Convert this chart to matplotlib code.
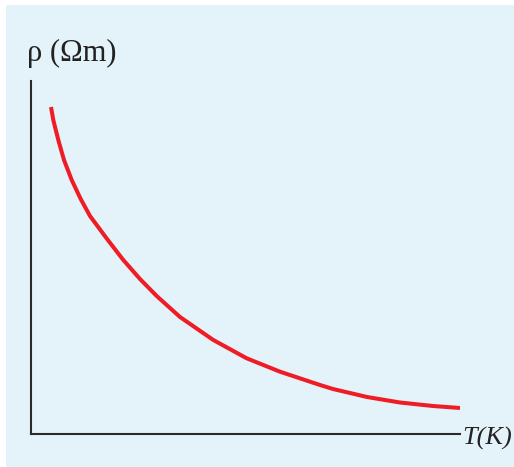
import matplotlib.pyplot as plt
from matplotlib.patches import Rectangle

# curve (arbitrary units, no ticks in the original)
temp = [20, 22.3, 27.3, 33, 40.7, 49.7, 59, 75.7, 92.3, 109, 125.7, 149,
        182.3, 215.7, 249, 289, 302, 336, 369, 402, 429]
rho = [327, 314, 294, 274, 254, 235, 218, 195.5, 174, 155, 138, 117,
       94, 75.7, 62.3, 49, 45, 37, 31.5, 28, 26]

fig = plt.figure(figsize=(5.14, 4.67), dpi=100)
fig.patch.set_facecolor("white")
bg = Rectangle((6 / 514, 0), 1, 1 - 5 / 467, transform=fig.transFigure,
               facecolor="#e4f3f9", edgecolor="none", zorder=-10)
fig.add_artist(bg)

ax = fig.add_axes([31 / 514, 33 / 467, 429 / 514, 353 / 467])
ax.set_zorder(5)
ax.set_facecolor("none")
ax.plot(temp, rho, color="#ee1c25", lw=2.9, solid_capstyle="butt",
        solid_joinstyle="round")
ax.set_xlim(0, 429)
ax.set_ylim(0, 353)
ax.set_xticks([])
ax.set_yticks([])
for s in ["top", "right"]:
    ax.spines[s].set_visible(False)
for s in ["left", "bottom"]:
    ax.spines[s].set_linewidth(1.5)
    ax.spines[s].set_color("#2b2b2b")

fig.text(27 / 514, 1 - 53 / 467, "ρ (Ωm)", family="Liberation Serif", fontsize=22,
         va="center", ha="left", color="#222222", zorder=6)
fig.text(462 / 514, 1 - 438 / 467, "T(K)", family="Liberation Serif", style="italic",
         fontsize=19, va="center", ha="left", color="#222222", zorder=6)

fig.savefig("out.png", dpi=100)
